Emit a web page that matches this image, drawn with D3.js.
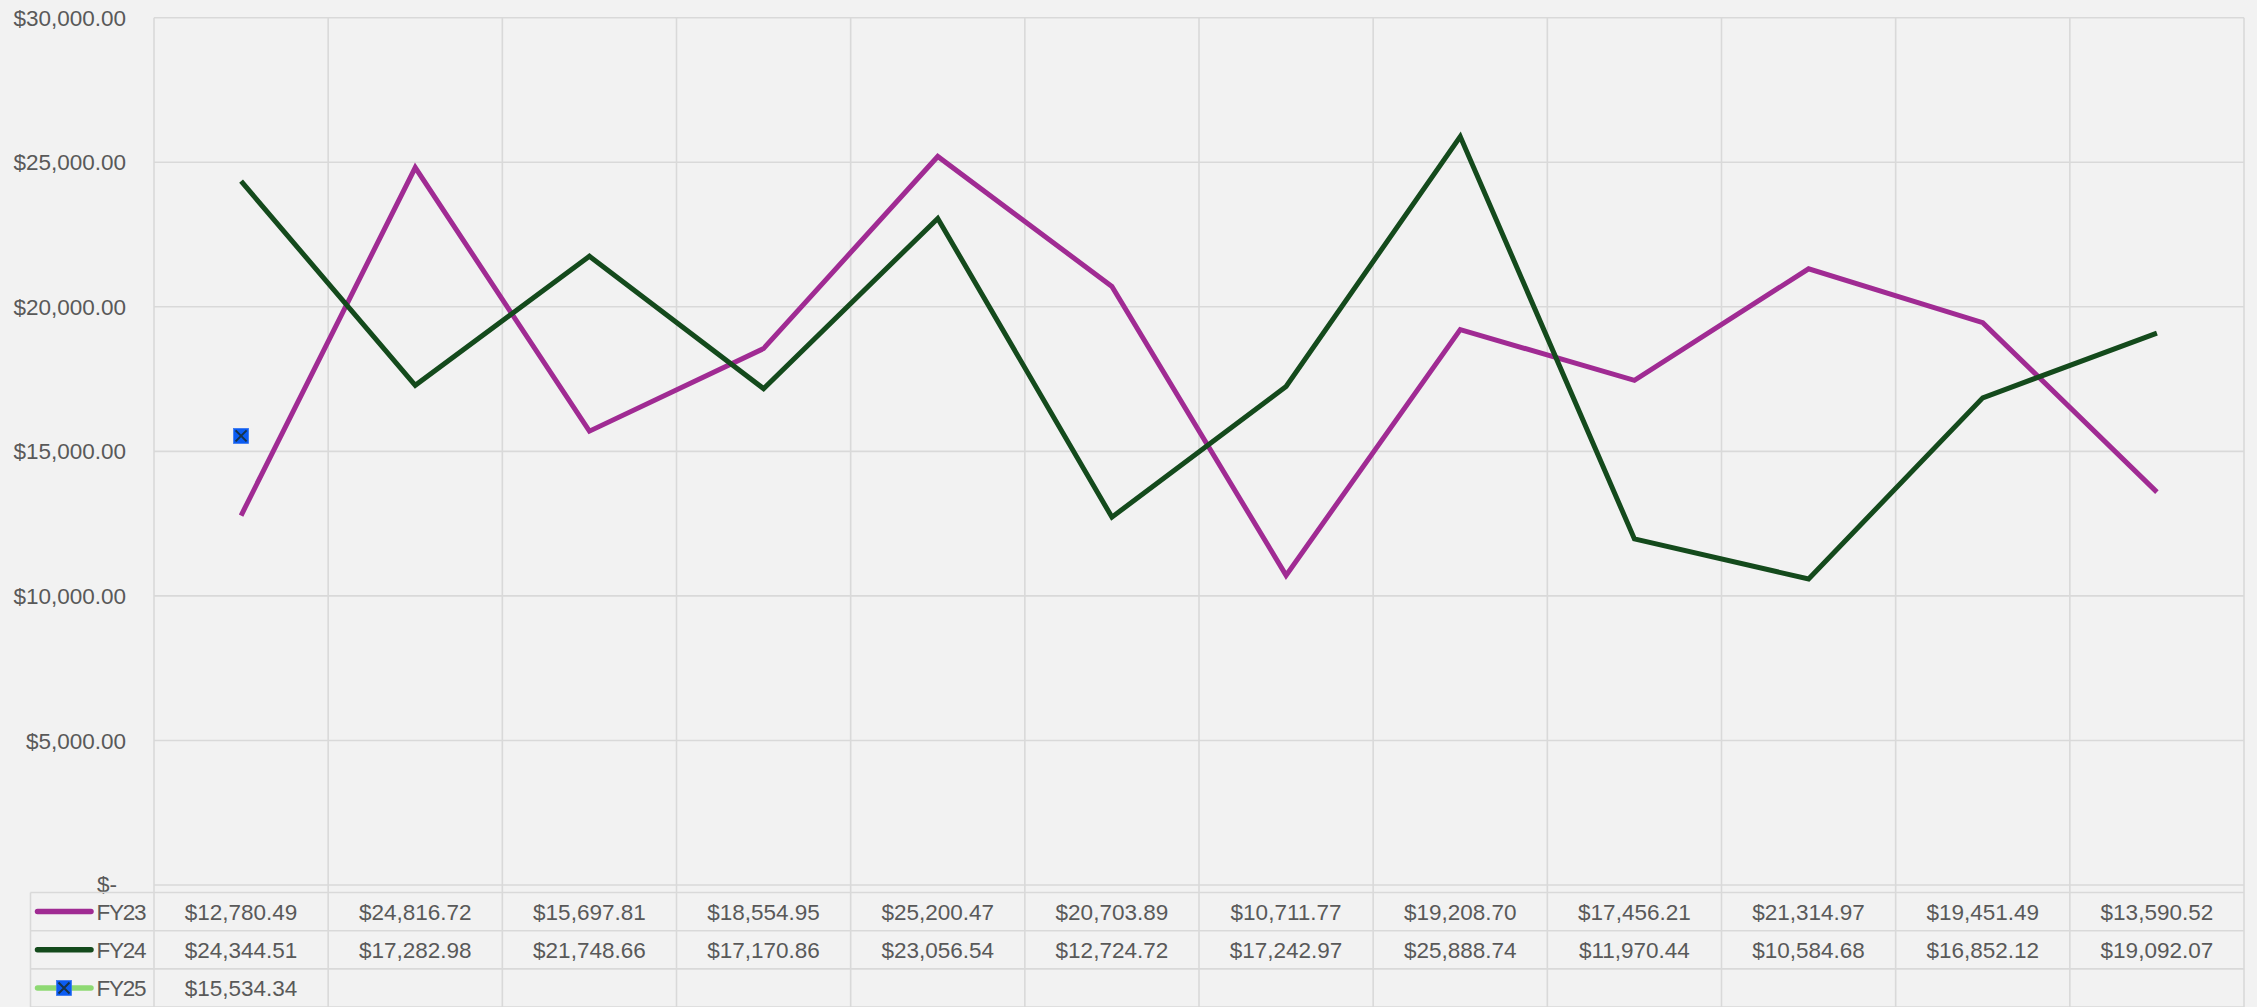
<!DOCTYPE html>
<html>
<head>
<meta charset="utf-8">
<script src="https://cdnjs.cloudflare.com/ajax/libs/d3/7.8.5/d3.min.js"></script>
<style>
    body {
        margin: 0;
        background: #f2f2f2;
        font-family: "Liberation Sans", Arial, Helvetica, sans-serif;
    }
    svg text {
        fill: #595959;
        font-size: 22.5px;
    }
</style>
</head>
<body>
<svg id="chart" width="2257" height="1007"></svg>
<script>
    const seriesNames = ["FY23", "FY24", "FY25"];
    const fy23 = [12780.49, 24816.72, 15697.81, 18554.95, 25200.47, 20703.89, 10711.77, 19208.70, 17456.21, 21314.97, 19451.49, 13590.52];
    const fy24 = [24344.51, 17282.98, 21748.66, 17170.86, 23056.54, 12724.72, 17242.97, 25888.74, 11970.44, 10584.68, 16852.12, 19092.07];
    const fy25 = [15534.34];
    const yTicks = [0, 5000, 10000, 15000, 20000, 25000, 30000];
    const colors = { FY23: "#a02b93", FY24: "#144a1c", FY25: "#8ed973" };

    const series = seriesNames.map((name, i) => ({ name: name, values: [fy23, fy24, fy25][i] }));

    const W = 2257, H = 1007;
    const plotL = 154, plotR = 2244, plotT = 17.7, zeroY = 885;
    const tableTop = 892.5, rowH = 38.2, tableLeft = 30.5;
    const gridColor = "#d9d9d9";

    const svg = d3.select("#chart");

    const x = d3.scaleBand()
        .domain(d3.range(fy23.length))
        .range([plotL, plotR]);

    const y = d3.scaleLinear()
        .domain([0, 30000])
        .range([zeroY, plotT]);

    const money = d3.format("$,.2f");
    const fmt = v => v === 0 ? "$-" : money(v);

    // horizontal gridlines
    svg.append("g")
        .selectAll("line")
        .data(yTicks)
        .enter()
        .append("line")
        .attr("x1", plotL)
        .attr("x2", plotR)
        .attr("y1", d => y(d))
        .attr("y2", d => y(d))
        .attr("stroke", gridColor)
        .attr("stroke-width", 1.6);

    // vertical gridlines, running down through the data table
    const edges = d3.range(fy23.length + 1).map(i => i < fy23.length ? x(i) : plotR);
    svg.append("g")
        .selectAll("line")
        .data(edges)
        .enter()
        .append("line")
        .attr("x1", d => d)
        .attr("x2", d => d)
        .attr("y1", plotT)
        .attr("y2", H)
        .attr("stroke", gridColor)
        .attr("stroke-width", 1.6);

    // y axis labels
    svg.append("g")
        .selectAll("text")
        .data(yTicks)
        .enter()
        .append("text")
        .attr("x", d => d === 0 ? 117 : 126)
        .attr("y", d => y(d))
        .attr("dy", d => d === 0 ? "0.3em" : "0.36em")
        .attr("text-anchor", "end")
        .text(fmt);

    // table row lines
    const rowLines = d3.range(series.length + 1).map(i => tableTop + i * rowH);
    svg.append("g")
        .selectAll("line")
        .data(rowLines)
        .enter()
        .append("line")
        .attr("x1", tableLeft)
        .attr("x2", plotR)
        .attr("y1", d => d)
        .attr("y2", d => d)
        .attr("stroke", gridColor)
        .attr("stroke-width", 1.6);

    svg.append("line")
        .attr("x1", tableLeft).attr("x2", tableLeft)
        .attr("y1", tableTop).attr("y2", H)
        .attr("stroke", gridColor)
        .attr("stroke-width", 1.6);

    // lines
    const line = d3.line()
        .x((d, i) => x(i) + x.bandwidth() / 2)
        .y(d => y(d));

    series.filter(s => s.values.length > 1).forEach(s => {
        svg.append("path")
            .datum(s.values)
            .attr("d", line)
            .attr("fill", "none")
            .attr("stroke", colors[s.name])
            .attr("stroke-width", 5)
            .attr("stroke-linejoin", "miter");
    });

    // FY25 single point marker
    function marker(g, cx, cy) {
        const s = 7.5;
        g.append("rect")
            .attr("x", cx - s).attr("y", cy - s)
            .attr("width", 2 * s).attr("height", 2 * s)
            .attr("fill", "#0b5cf2")
            .attr("stroke", "#3a78f0")
            .attr("stroke-width", 0.8);
        g.append("path")
            .attr("d", `M${cx - s + 2},${cy - s + 2}L${cx + s - 2},${cy + s - 2}M${cx + s - 2},${cy - s + 2}L${cx - s + 2},${cy + s - 2}`)
            .attr("stroke", "#17334a")
            .attr("stroke-width", 2);
    }

    fy25.forEach((v, i) => {
        marker(svg.append("g"), x(i) + x.bandwidth() / 2, y(v));
    });

    // data table
    series.forEach((s, r) => {
        const cy = tableTop + r * rowH + rowH / 2;
        const g = svg.append("g");

        g.append("line")
            .attr("x1", 37.5).attr("x2", 91)
            .attr("y1", cy).attr("y2", cy)
            .attr("stroke", colors[s.name])
            .attr("stroke-width", 5.5)
            .attr("stroke-linecap", "round");
        if (s.name === "FY25") marker(g, 64, cy);

        g.append("text")
            .attr("x", 96.5)
            .attr("y", cy)
            .attr("dy", "0.36em")
            .attr("textLength", 50)
            .text(s.name);

        g.selectAll("text.val")
            .data(s.values)
            .enter()
            .append("text")
            .attr("class", "val")
            .attr("x", (d, i) => x(i) + x.bandwidth() / 2)
            .attr("y", cy)
            .attr("dy", "0.36em")
            .attr("text-anchor", "middle")
            .text(d => money(d));
    });
</script>
</body>
</html>
